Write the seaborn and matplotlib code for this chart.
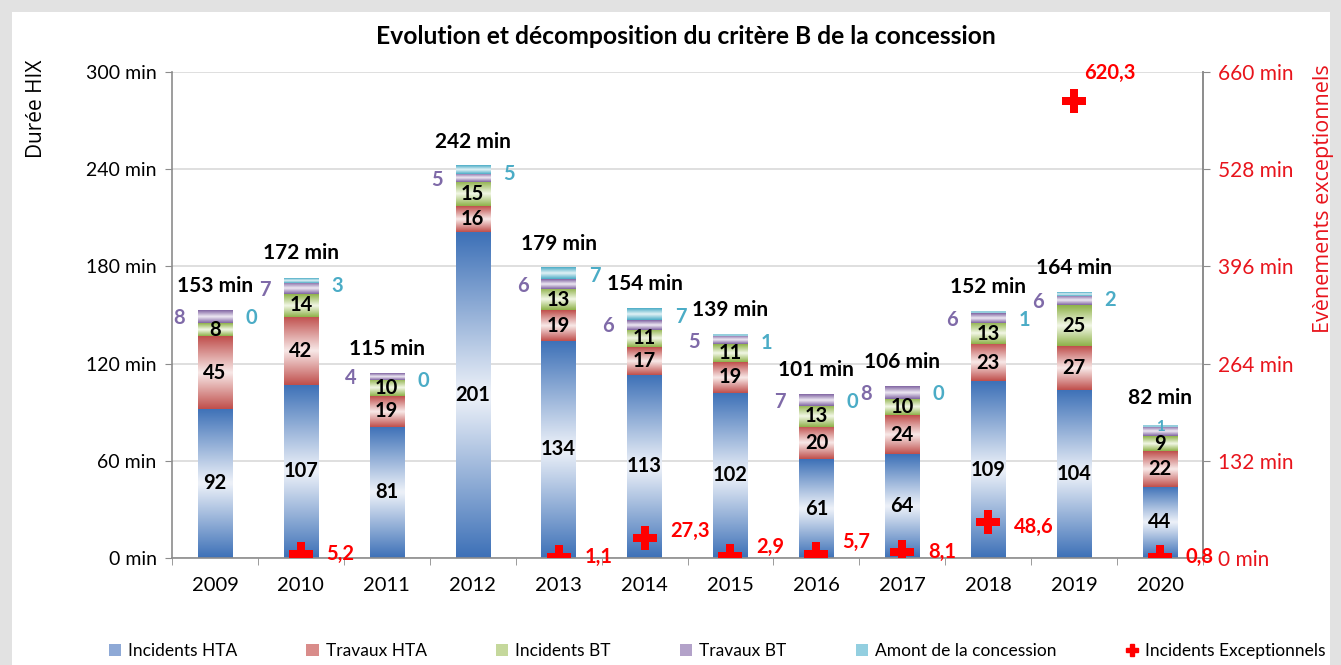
import numpy as np
import pandas as pd
import matplotlib
matplotlib.use("Agg")
import matplotlib.pyplot as plt
import seaborn as sns
from matplotlib.patches import Patch, Rectangle
from matplotlib.lines import Line2D
from matplotlib.colors import to_rgb

# Données
years = ["2009", "2010", "2011", "2012", "2013", "2014",
         "2015", "2016", "2017", "2018", "2019", "2020"]
incidents_hta = [92, 107, 81, 201, 134, 113, 102, 61, 64, 109, 104, 44]
travaux_hta = [45, 42, 19, 16, 19, 17, 19, 20, 24, 23, 27, 22]
incidents_bt = [8, 14, 10, 15, 13, 11, 11, 13, 10, 13, 25, 9]
travaux_bt = [8, 7, 4, 5, 6, 6, 5, 7, 8, 6, 6, 6]
amont = [0, 3, 0, 5, 7, 7, 1, 0, 0, 1, 2, 1]
totals = [153, 172, 115, 242, 179, 154, 139, 101, 106, 152, 164, 82]
exceptionnels = [np.nan, 5.2, np.nan, np.nan, 1.1, 27.3, 2.9, 5.7, 8.1, 48.6, 620.3, 0.8]

series_names = ["Incidents HTA", "Travaux HTA", "Incidents BT", "Travaux BT", "Amont de la concession"]
series_values = [incidents_hta, travaux_hta, incidents_bt, travaux_bt, amont]
dark_colors = ["#3f72b8", "#c0504d", "#8fb24a", "#8064a2", "#4bacc6"]
light_colors = ["#eef2f9", "#f8e9e8", "#f2f7e6", "#eee9f3", "#e2f2f6"]

plt.rcParams["font.family"] = ["Lato", "DejaVu Sans"]

df = pd.DataFrame({"Année": years})
for name, vals in zip(series_names, series_values):
    df[name] = vals
cum = df[series_names].cumsum(axis=1)
df["Exceptionnels"] = exceptionnels

fig = plt.figure(figsize=(13.41, 6.65), dpi=100, facecolor="#e2e2e2")
fig.patches.append(Rectangle((12 / 1341, 0), 1318 / 1341, 1 - 12 / 665,
                             transform=fig.transFigure, facecolor="white",
                             edgecolor="none", zorder=-10))
ax = fig.add_axes([172 / 1341, 107 / 665, 1031 / 1341, 486 / 665])
ax.set_facecolor("white")

# barres cumulées, de la couche du haut vers celle du bas
for name, dark in zip(series_names[::-1], dark_colors[::-1]):
    sns.barplot(data=cum.assign(Année=years), x="Année", y=name, color=dark,
                width=0.4, saturation=1, errorbar=None, ax=ax, zorder=1)

n = len(series_names)
layers = [ax.containers[n - 1 - j] for j in range(n)]

# dégradé vertical (foncé - clair - foncé) par segment
t = np.linspace(0, 1, 64)
prof = np.abs(2 * t - 1)
for j, cont in enumerate(layers):
    d = np.array(to_rgb(dark_colors[j]))
    l = np.array(to_rgb(light_colors[j]))
    grad = l[None, :] + (d - l)[None, :] * prof[:, None]
    grad = grad[:, None, :]
    for i, p in enumerate(cont.patches):
        top = p.get_height()
        bot = layers[j - 1].patches[i].get_height() if j > 0 else 0
        if top - bot <= 0:
            continue
        x0 = p.get_x()
        ax.imshow(grad, extent=[x0, x0 + p.get_width(), bot, top], aspect="auto",
                  origin="lower", interpolation="bilinear", zorder=2)

# étiquettes
for i, p in enumerate(layers[0].patches):
    xc = p.get_x() + p.get_width() / 2
    for j in range(3):
        top = layers[j].patches[i].get_height()
        bot = layers[j - 1].patches[i].get_height() if j > 0 else 0
        ax.text(xc, (top + bot) / 2, f"{series_values[j][i]}", ha="center", va="center",
                fontsize=14.5, fontweight="bold", color="black", zorder=5)
    top4 = layers[3].patches[i].get_height()
    bot4 = layers[2].patches[i].get_height()
    top5 = layers[4].patches[i].get_height()
    if i != len(years) - 1:
        ax.text(xc - 0.42, (top4 + bot4) / 2 - 1, f"{travaux_bt[i]}", ha="center", va="center",
                fontsize=14.5, fontweight="bold", color="#7f6aa8", zorder=5)
        ax.text(xc + 0.42, top5 - 5, f"{amont[i]}", ha="center", va="center",
                fontsize=14.5, fontweight="bold", color="#4bacc6", zorder=5)
        ax.text(xc, top5 + 15, f"{totals[i]} min", ha="center", va="center",
                fontsize=15, fontweight="bold", color="black", zorder=5)
    else:
        ax.text(xc, top5 - 1, f"{amont[i]}", ha="center", va="center",
                fontsize=11, fontweight="bold", color="#4bacc6", zorder=5)
        ax.text(xc, top5 + 17, f"{totals[i]} min", ha="center", va="center",
                fontsize=15, fontweight="bold", color="black", zorder=5)

ax.set_ylim(0, 300)
ax.set_xlim(-0.5, len(years) - 0.5)
ax.set_yticks(np.arange(0, 301, 60))
ax.set_yticklabels([f"{v} min" for v in range(0, 301, 60)])
ax.yaxis.grid(True, color="#d9d9d9", linewidth=1.2)
ax.set_axisbelow(True)
ax.set_xlabel("")
ax.set_ylabel("Durée HIX", fontsize=15, family=["Open Sans", "DejaVu Sans"])
ax.yaxis.set_label_coords(-0.121, 0.924)
ax.tick_params(axis="y", labelsize=14, length=5, color="#8c8c8c", pad=6)
ax.tick_params(axis="x", which="major", labelsize=14.5, length=0, pad=14)
ax.set_xticks(np.arange(-0.5, len(years), 1), minor=True)
ax.tick_params(axis="x", which="minor", length=5, color="#8c8c8c")
for s in ["top"]:
    ax.spines[s].set_visible(False)
for s in ["left", "right", "bottom"]:
    ax.spines[s].set_color("#8c8c8c")
    ax.spines[s].set_linewidth(1.2)

# axe secondaire : incidents exceptionnels
ax2 = ax.twinx()
ax2.set_ylim(0, 660)
ax2.set_yticks(np.arange(0, 661, 132))
ax2.set_yticklabels([f"{v} min" for v in range(0, 661, 132)], color="#e8141c")
ax2.tick_params(axis="y", labelsize=15, length=5, color="#8c8c8c", pad=6)
for s in ["top", "left", "bottom"]:
    ax2.spines[s].set_visible(False)
ax2.spines["right"].set_color("#8c8c8c")
ax2.spines["right"].set_linewidth(1.2)
sns.scatterplot(data=df, x="Année", y="Exceptionnels", marker="P", s=300,
                color="#ff0000", edgecolor="none", ax=ax2, zorder=6, legend=False)
ax2.set_xlim(-0.5, len(years) - 0.5)
ax2.set_xlabel("")
ax2.set_ylabel("Evènements exceptionnels", fontsize=15.5, color="#e8141c",
               family=["Open Sans", "DejaVu Sans"])
ax2.yaxis.set_label_coords(1.107, 0.74)

label_dy = {4: 0, 5: 9, 6: 12, 7: 16, 9: -6}
for i, v in enumerate(exceptionnels):
    if np.isnan(v):
        continue
    txt = f"{v:.1f}".replace(".", ",")
    if v > 600:
        ax2.text(i + 0.42, v + 38, txt, ha="center", va="center", fontsize=14.5,
                 fontweight="bold", color="#ff0000", zorder=6)
    else:
        ax2.text(i + 0.3, v + label_dy.get(i, 0), txt, ha="left", va="center", fontsize=14.5,
                 fontweight="bold", color="#ff0000", zorder=6)

fig.text(0.5116, 1 - 37 / 665, "Evolution et décomposition du critère B de la concession",
         ha="center", va="center", fontsize=17.7, fontweight="bold")

handles = [Patch(facecolor=c, edgecolor="none") for c in
           ["#8ea9d6", "#d98c8a", "#c5d89c", "#b3a2c9", "#93cfe0"]]
handles.append(Line2D([], [], marker="P", color="#ff0000", linestyle="none", markersize=9))
fig.legend(handles, series_names + ["Incidents Exceptionnels"], loc="center",
           bbox_to_anchor=(0.5347, 1 - 651 / 665), ncol=6, frameon=False, fontsize=12.5,
           handlelength=0.7, handleheight=0.7, handletextpad=0.4, columnspacing=4.0)

fig.savefig("out.png", dpi=100, facecolor=fig.get_facecolor())
